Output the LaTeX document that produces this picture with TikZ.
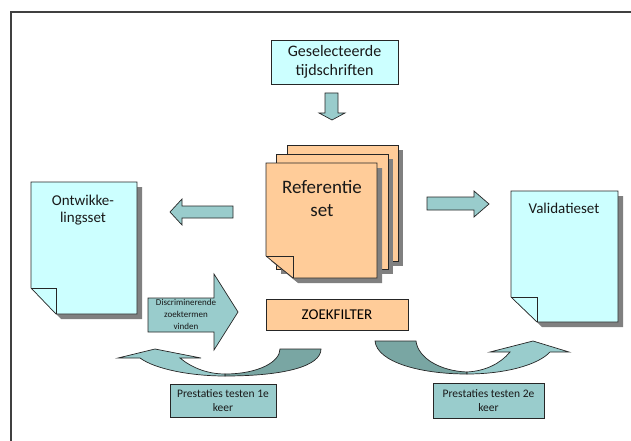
\documentclass[tikz,border=0pt]{standalone}
\usepackage{fontspec}
\setmainfont{Carlito}

\definecolor{cyaan}{HTML}{CCFFFF}
\definecolor{oranje}{HTML}{FFCC99}
\definecolor{blauwgroen}{HTML}{99CCCC}
\definecolor{donkergroen}{HTML}{79A6A3}
\definecolor{schaduwgrijs}{HTML}{808080}
\definecolor{lijn}{HTML}{262626}

\tikzset{
  rand/.style={draw=lijn, line width=0.7pt, line join=miter},
  schaduw/.style={fill=schaduwgrijs},
  blokpijl/.style={rand, fill=blauwgroen},
  kader/.style={draw=black!75, line width=1.1pt},
  tekst/.style={align=center, inner sep=0pt, text=black!90}
}

% pagina met omgevouwen hoek: x1, y1, x2, y2, vouwbreedte, vouwhoogte, kleur
\newcommand{\pagina}[7]{%
  \fill[schaduw] ({#1+5},{#2+5}) -- ({#3+5},{#2+5}) -- ({#3+5},{#4+5})
    -- ({#1+#5+5},{#4+5}) -- ({#1+5},{#4-#6+5}) -- cycle;
  \filldraw[rand, fill=#7] (#1,#2) -- (#3,#2) -- (#3,#4) -- ({#1+#5},#4)
    -- (#1,{#4-#6}) -- cycle;
  \draw[rand] (#1,{#4-#6}) -- ({#1+#5},{#4-#6}) -- ({#1+#5},#4);
}

\begin{document}
\begin{tikzpicture}[x=1pt, y=-1pt]
  \useasboundingbox (0,0) rectangle (631,441);
  \draw[kader] (11,441) -- (11,12) -- (631,12);

  % bron
  \node[rand, fill=cyaan, tekst, minimum width=127pt, minimum height=44pt,
        font=\fontsize{16}{18.5}\selectfont] (tijdschriften) at (334.5,62)
        {Geselecteerde\\tijdschriften};
  \filldraw[blokpijl] (325,93) -- (338,93) -- (338,113) -- (345,113)
    -- (332,120) -- (319,113) -- (325,113) -- cycle;

  % referentieset als stapel
  \fill[schaduw] (292,150) rectangle (403,266);
  \filldraw[rand, fill=oranje] (287,145) rectangle (398,261);
  \fill[schaduw] (281,159) rectangle (393,274);
  \filldraw[rand, fill=oranje] (276,154) rectangle (388,269);
  \pagina{266}{163}{377}{278}{27}{22}{oranje}
  \node[tekst, font=\fontsize{19}{23}\selectfont] (referentie) at (322,198)
    {Referentie\\set};

  % ontwikkelingsset en validatieset
  \pagina{31}{182}{137}{314}{25}{26}{cyaan}
  \node[tekst, font=\fontsize{15}{16.5}\selectfont] (ontwikkel) at (83,210)
    {Ontwikke-\\lingsset};
  \pagina{511}{191}{618}{322}{26}{25}{cyaan}
  \node[tekst, font=\fontsize{15}{17.5}\selectfont] (validatie) at (564,208)
    {Validatieset};

  \filldraw[blokpijl] (233,206) -- (182,206) -- (182,199) -- (170,212)
    -- (182,225) -- (182,218) -- (233,218) -- cycle;
  \filldraw[blokpijl] (427,197) -- (474,197) -- (474,191) -- (489,204)
    -- (474,217) -- (474,210) -- (427,210) -- cycle;

  % zoekfilter
  \filldraw[blokpijl] (148,298) -- (214,298) -- (214,274) -- (238,312)
    -- (214,350) -- (214,332) -- (148,332) -- cycle;
  \node[tekst, font=\fontsize{9}{12}\selectfont] (termen) at (186,314)
    {Discriminerende\\zoektermen\\vinden};
  \node[rand, fill=oranje, minimum width=142pt, minimum height=31pt,
        font=\fontsize{15}{18}\selectfont] (zoekfilter) at (337,314.5)
        {ZOEKFILTER};

  % gebogen pijlen
  \filldraw[rand, fill=donkergroen] (225,376) .. controls (285,376) and (321,366)
    .. (321,349) -- (280,349) .. controls (280,362) and (258,374) .. (225,374) -- cycle;
  \filldraw[blokpijl] (225,376) .. controls (190,376) and (155,369) .. (140,358)
    -- (118,358) -- (155,349) -- (201,358) -- (180,358)
    .. controls (192,368) and (208,374) .. (225,374) -- cycle;
  \filldraw[rand, fill=donkergroen] (375,341) -- (416,341) .. controls (418,358)
    and (440,371) .. (467,372) -- (467,374) .. controls (420,374) and (377,362)
    .. (375,341) -- cycle;
  \filldraw[blokpijl] (467,374) .. controls (505,374) and (538,365) .. (550,352)
    -- (569,352) -- (533,341) -- (490,352) -- (510,352)
    .. controls (500,364) and (485,371) .. (467,372) -- cycle;

  % prestaties
  \node[rand, fill=blauwgroen, tekst, minimum width=106pt, minimum height=33pt,
        font=\fontsize{11.5}{14}\selectfont] (test1) at (223,400.5)
        {Prestaties testen 1e\\keer};
  \node[rand, fill=blauwgroen, tekst, minimum width=111pt, minimum height=35pt,
        font=\fontsize{11.5}{14}\selectfont] (test2) at (488.5,400.5)
        {Prestaties testen 2e\\keer};
\end{tikzpicture}
\end{document}
